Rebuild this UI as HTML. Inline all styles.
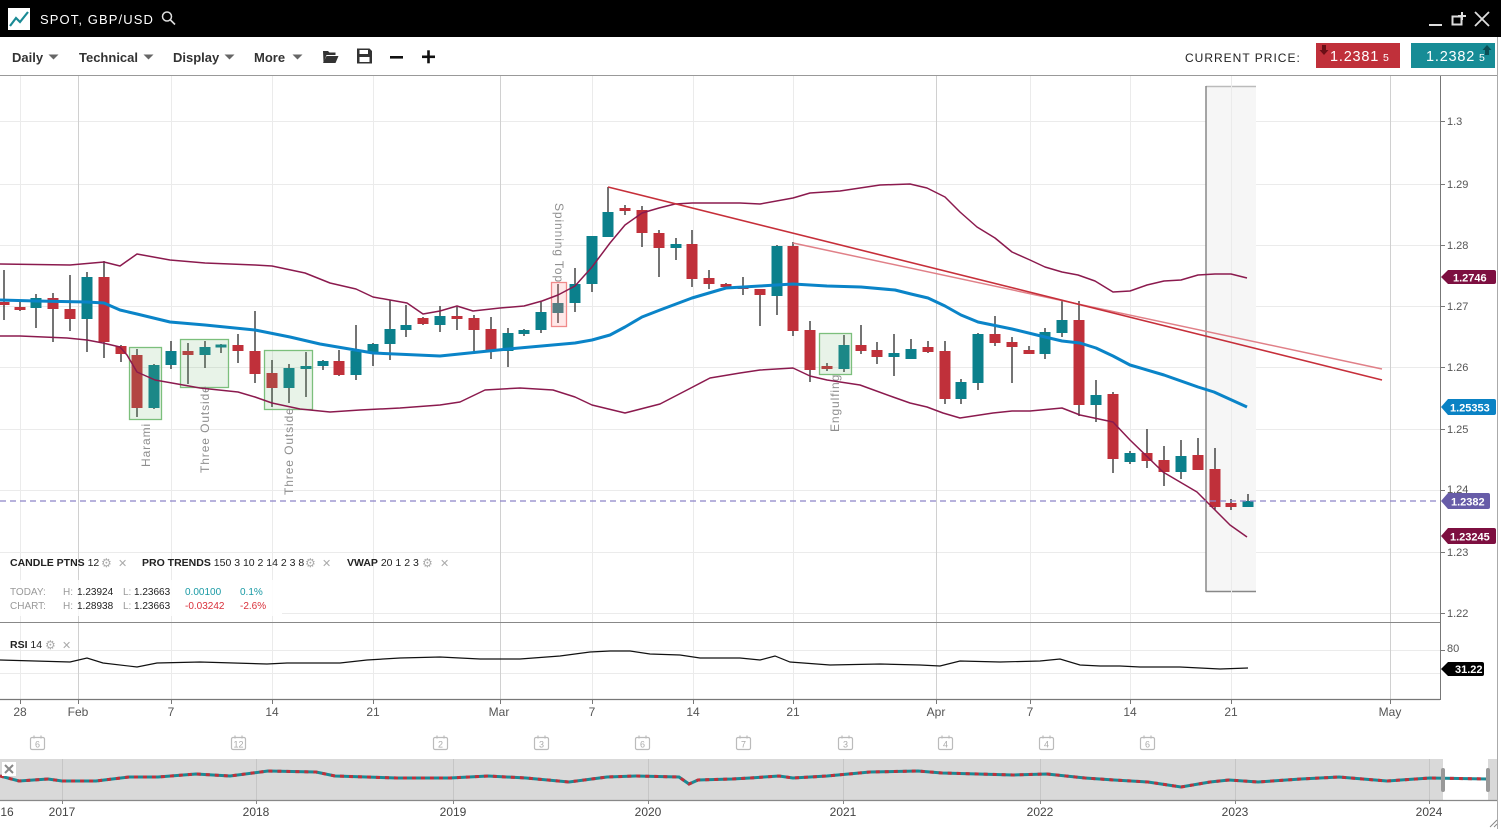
<!DOCTYPE html>
<html><head><meta charset="utf-8"><style>
html,body{margin:0;padding:0;background:#fff;width:1501px;height:829px;overflow:hidden}
svg{display:block}
</style></head><body>
<svg width="1501" height="829" viewBox="0 0 1501 829" font-family="'Liberation Sans', sans-serif">
<!-- header -->
<rect x="0" y="0" width="1501" height="37" fill="#000"/>
<rect x="8" y="8" width="22" height="22" fill="#fff"/>
<polyline points="10,26 16,18 20,22 28,12" fill="none" stroke="#1a8a95" stroke-width="2.2"/>
<text x="40" y="24" fill="#fff" font-size="13" letter-spacing="1.1">SPOT, GBP/USD</text>
<circle cx="167" cy="16.5" r="4.5" fill="none" stroke="#ddd" stroke-width="1.5"/>
<line x1="170.5" y1="20" x2="175" y2="24.5" stroke="#ddd" stroke-width="1.6"/>
<line x1="1429" y1="25" x2="1442" y2="25" stroke="#ddd" stroke-width="2"/>
<rect x="1452.5" y="16.5" width="9" height="8" fill="none" stroke="#ddd" stroke-width="2"/>
<path d="M1462 12v8M1458 16h8" stroke="#ddd" stroke-width="2"/>
<path d="M1475 12L1489 26M1489 12L1475 26" stroke="#ddd" stroke-width="1.8"/>
<!-- toolbar -->
<g font-size="13" font-weight="bold" fill="#333">
<text x="12" y="62">Daily</text>
<text x="79" y="62">Technical</text>
<text x="173" y="62">Display</text>
<text x="254" y="62">More</text>
</g>
<g fill="#666">
<path d="M48.5 54.5h10l-5 5z"/>
<path d="M143.5 54.5h10l-5 5z"/>
<path d="M224.5 54.5h10l-5 5z"/>
<path d="M292.5 54.5h10l-5 5z"/>
</g>
<path d="M323 51h5l1.5 1.5h6v2.5h-9l-3 7.5z M326.5 56h12l-3 7h-12.5z" fill="#333"/>
<path d="M357 48.5h12.5l2.5 2.5v12.5h-15z" fill="#333"/>
<rect x="359.5" y="50" width="8.5" height="4" fill="#fff"/>
<rect x="359.5" y="57" width="10" height="5" fill="#fff"/>
<rect x="390" y="56" width="13" height="2.6" fill="#111"/>
<rect x="422" y="55.5" width="13" height="2.6" fill="#111"/>
<rect x="427.2" y="50.3" width="2.6" height="13" fill="#111"/>
<text x="1185" y="62" font-size="12" fill="#222" letter-spacing="1.0">CURRENT PRICE:</text>
<rect x="1316" y="43" width="84" height="25" fill="#c0303a"/>
<path d="M1322 45h4v5h2.5l-4.5 5l-4.5-5h2.5z" fill="#6a0f16"/>
<text x="1330" y="61" font-size="14.5" fill="#fff" letter-spacing="0.8">1.2381</text>
<text x="1383" y="61" font-size="10.5" fill="#fff">5</text>
<rect x="1411" y="43" width="84" height="25" fill="#178c96"/>
<path d="M1485 55h4v-5h2.5l-4.5-5l-4.5 5h2.5z" fill="#0b4e55"/>
<text x="1426" y="61" font-size="14.5" fill="#fff" letter-spacing="0.8">1.2382</text>
<text x="1479" y="61" font-size="10.5" fill="#fff">5</text>
<line x1="0" y1="75.5" x2="1497" y2="75.5" stroke="#999" stroke-width="1"/>
<line x1="1497.5" y1="37" x2="1497.5" y2="829" stroke="#aaa" stroke-width="1"/>

<!-- horizontal grid -->
<g stroke="#ebebeb" stroke-width="1">
<line x1="0" y1="121.5" x2="1440" y2="121.5"/>
<line x1="0" y1="184.5" x2="1440" y2="184.5"/>
<line x1="0" y1="245.5" x2="1440" y2="245.5"/>
<line x1="0" y1="306.5" x2="1440" y2="306.5"/>
<line x1="0" y1="367.5" x2="1440" y2="367.5"/>
<line x1="0" y1="429.5" x2="1440" y2="429.5"/>
<line x1="0" y1="490.5" x2="1440" y2="490.5"/>
<line x1="0" y1="552.5" x2="1440" y2="552.5"/>
<line x1="282" y1="613.5" x2="1440" y2="613.5"/>
<line x1="0" y1="650.5" x2="1440" y2="650.5"/>
<line x1="0" y1="673.5" x2="1440" y2="673.5"/>
</g>
<!-- shaded box -->
<rect x="1206" y="86" width="50" height="506" fill="#f6f6f6"/>
<line x1="1206" y1="86.5" x2="1256" y2="86.5" stroke="#bbb" stroke-width="1.5"/>
<line x1="1206" y1="86" x2="1206" y2="592" stroke="#888" stroke-width="1.5"/>
<line x1="1206" y1="591.5" x2="1256" y2="591.5" stroke="#888" stroke-width="1.5"/>
<!-- vertical grid -->
<g stroke="#ebebeb" stroke-width="1">
<line x1="20.5" y1="76" x2="20.5" y2="699"/>
<line x1="171.5" y1="76" x2="171.5" y2="699"/>
<line x1="272.5" y1="76" x2="272.5" y2="699"/>
<line x1="373.5" y1="76" x2="373.5" y2="699"/>
<line x1="592.5" y1="76" x2="592.5" y2="699"/>
<line x1="693.5" y1="76" x2="693.5" y2="699"/>
<line x1="793.5" y1="76" x2="793.5" y2="699"/>
<line x1="1030.5" y1="76" x2="1030.5" y2="699"/>
<line x1="1130.5" y1="76" x2="1130.5" y2="699"/>
<line x1="1231.5" y1="76" x2="1231.5" y2="699"/>
</g>
<g stroke="#d0d0d0" stroke-width="1">
<line x1="78.5" y1="76" x2="78.5" y2="699"/>
<line x1="500.5" y1="76" x2="500.5" y2="699"/>
<line x1="936.5" y1="76" x2="936.5" y2="699"/>
<line x1="1390.5" y1="76" x2="1390.5" y2="699"/>
</g>
<!-- legend white bg -->
<rect x="0" y="580" width="282" height="36" fill="#fff" opacity="0.85"/>

<!-- candle wicks -->
<path stroke="#2a2a2a" stroke-width="1.3" fill="none" d="M4 270V320 M20 300V311 M36 294V328 M53 293V342 M70 275V331 M87 272V352 M104 261V358 M121 345V362 M137 349V417 M154 364V409 M171 341V369 M188 343V384 M205 341V368 M221 344V353 M238 334V363 M255 311V383 M272 360V407 M289 364V403 M306 352V397 M323 360V370 M339 350V376 M356 325V380 M373 343V366 M390 300V360 M406 305V337 M423 317V325 M440 306V332 M457 307V330 M474 315V354 M491 317V359 M508 328V367 M524 329V336 M541 302V333 M558 284V323 M575 268V312 M592 236V292 M608 187V237 M625 205V215 M642 206V247 M659 230V277 M676 238V260 M692 230V287 M709 270V289 M726 283V288 M743 277V295 M760 289V326 M777 245V315 M793 242V336 M810 321V382 M827 363V371 M844 335V372 M861 325V354 M877 342V364 M894 334V376 M911 339V359 M928 341V353 M945 341V404 M961 379V404 M978 333V390 M995 316V346 M1012 337V383 M1029 346V354 M1045 328V359 M1062 301V337 M1079 301V416 M1096 380V422 M1113 392V473 M1130 451V464 M1147 429V468 M1164 446V486 M1181 440V479 M1198 438V470 M1215 448V510 M1231 499V510 M1248 494V507"/>
<!-- red bodies -->
<g fill="#c0303a">
<rect x="-1.5" y="302" width="11" height="3"/>
<rect x="14.5" y="307" width="11" height="3"/>
<rect x="47.5" y="298" width="11" height="11"/>
<rect x="64.5" y="309" width="11" height="10"/>
<rect x="98.5" y="277" width="11" height="65"/>
<rect x="115.5" y="346" width="11" height="8"/>
<rect x="131.5" y="355" width="11" height="53"/>
<rect x="182.5" y="351" width="11" height="4"/>
<rect x="232.5" y="345" width="11" height="6"/>
<rect x="249.5" y="351" width="11" height="23"/>
<rect x="266.5" y="373" width="11" height="15"/>
<rect x="333.5" y="361" width="11" height="14"/>
<rect x="417.5" y="318" width="11" height="6"/>
<rect x="451.5" y="316" width="11" height="3"/>
<rect x="468.5" y="318" width="11" height="12"/>
<rect x="485.5" y="329" width="11" height="21"/>
<rect x="619.5" y="208" width="11" height="3"/>
<rect x="636.5" y="210" width="11" height="23"/>
<rect x="653.5" y="233" width="11" height="15"/>
<rect x="686.5" y="244" width="11" height="35"/>
<rect x="703.5" y="278" width="11" height="6"/>
<rect x="720.5" y="284" width="11" height="3"/>
<rect x="737.5" y="286" width="11" height="3"/>
<rect x="754.5" y="289" width="11" height="6"/>
<rect x="787.5" y="246" width="11" height="85"/>
<rect x="804.5" y="330" width="11" height="40"/>
<rect x="821.5" y="366" width="11" height="3"/>
<rect x="855.5" y="345" width="11" height="6"/>
<rect x="871.5" y="350" width="11" height="7"/>
<rect x="922.5" y="347" width="11" height="5"/>
<rect x="939.5" y="351" width="11" height="48"/>
<rect x="989.5" y="334" width="11" height="9"/>
<rect x="1006.5" y="342" width="11" height="5"/>
<rect x="1023.5" y="350" width="11" height="4"/>
<rect x="1073.5" y="320" width="11" height="85"/>
<rect x="1107.5" y="394" width="11" height="65"/>
<rect x="1141.5" y="453" width="11" height="8"/>
<rect x="1158.5" y="460" width="11" height="12"/>
<rect x="1192.5" y="455" width="11" height="15"/>
<rect x="1209.5" y="469" width="11" height="38"/>
<rect x="1225.5" y="503" width="11" height="4"/>
</g>
<!-- teal bodies -->
<g fill="#0b808c">
<rect x="30.5" y="298" width="11" height="10"/>
<rect x="81.5" y="277" width="11" height="42"/>
<rect x="148.5" y="365" width="11" height="43"/>
<rect x="165.5" y="351" width="11" height="14"/>
<rect x="199.5" y="347" width="11" height="8"/>
<rect x="215.5" y="344.5" width="11" height="3"/>
<rect x="283.5" y="368" width="11" height="20"/>
<rect x="300.5" y="366" width="11" height="3"/>
<rect x="317.5" y="361" width="11" height="5"/>
<rect x="350.5" y="351" width="11" height="24"/>
<rect x="367.5" y="344" width="11" height="8"/>
<rect x="384.5" y="329" width="11" height="15"/>
<rect x="400.5" y="325" width="11" height="5"/>
<rect x="434.5" y="316" width="11" height="9"/>
<rect x="502.5" y="333" width="11" height="18"/>
<rect x="518.5" y="330" width="11" height="4"/>
<rect x="535.5" y="312" width="11" height="18"/>
<rect x="569.5" y="284" width="11" height="19"/>
<rect x="586.5" y="236" width="11" height="48"/>
<rect x="602.5" y="212" width="11" height="25"/>
<rect x="670.5" y="244" width="11" height="4"/>
<rect x="771.5" y="246" width="11" height="50"/>
<rect x="838.5" y="345" width="11" height="24"/>
<rect x="888.5" y="353" width="11" height="4"/>
<rect x="905.5" y="349" width="11" height="10"/>
<rect x="955.5" y="382" width="11" height="17"/>
<rect x="972.5" y="334" width="11" height="49"/>
<rect x="1039.5" y="332" width="11" height="22"/>
<rect x="1056.5" y="320" width="11" height="13"/>
<rect x="1090.5" y="395" width="11" height="10"/>
<rect x="1124.5" y="453" width="11" height="9"/>
<rect x="1175.5" y="456" width="11" height="16"/>
<rect x="1242.5" y="501" width="11" height="6"/>
</g>
<rect x="552.5" y="303" width="11" height="10" fill="#2a7a80"/>

<!-- pattern boxes -->
<g fill="rgba(110,180,110,0.16)" stroke="#7cbf7c" stroke-width="1.3">
<rect x="129.5" y="347.5" width="32" height="72"/>
<rect x="180.5" y="339.5" width="48" height="48"/>
<rect x="264.5" y="350.5" width="48" height="59"/>
<rect x="819.5" y="333.5" width="32" height="41"/>
</g>
<rect x="551.5" y="282.5" width="15" height="44" fill="rgba(255,140,140,0.2)" stroke="#f08a8a" stroke-width="1.3"/>
<g fill="#8f8f8f" font-size="12" letter-spacing="0.9">
<text transform="translate(150,467) rotate(-90)">Harami</text>
<text transform="translate(209,473) rotate(-90)">Three Outside</text>
<text transform="translate(293,495) rotate(-90)">Three Outside</text>
<text transform="translate(839,432) rotate(-90)">Engulfing</text>
<text transform="translate(555,203) rotate(90)">Spinning Top</text>
</g>

<!-- bands -->
<g fill="none" stroke="#8b1a4e" stroke-width="1.5" stroke-linejoin="round">
<polyline points="0,264 70,265 104,262 120,266 137,254 170,260 205,263 255,265 272,266 305,273 330,283 356,289 373,297 390,300 407,303 423,314 440,311 457,306 473,311 500,308 524,306 542,301 558,295 575,286 592,267 610,243 625,225 642,213 659,208 675,204 692,203 740,203 760,204 793,198 810,193 840,191 880,185 910,184 927,188 945,197 960,212 977,227 995,238 1012,252 1030,260 1045,267 1062,272 1078,275 1095,281 1113,292 1130,291 1147,285 1164,281 1181,280 1198,275 1215,274 1231,274 1247,278"/>
<polyline points="0,336 20,336 67,338 87,340 103,343 120,347 127,355 137,372 155,380 172,383 200,388 238,392 255,397 272,403 300,409 330,412 360,410 400,408 440,405 460,402 485,390 520,388 553,390 575,397 592,405 625,413 660,404 687,390 710,378 740,373 760,370 793,368 810,376 827,380 860,385 893,397 910,403 927,407 943,413 960,418 993,413 1012,411 1030,411 1062,408 1080,415 1113,422 1130,440 1163,472 1197,492 1213,508 1230,525 1247,537"/>
</g>
<polyline fill="none" stroke="#0a84c8" stroke-width="3" stroke-linejoin="round" points="0,300 36,301 87,302 104,303 120,310 137,314 170,322 205,325 255,330 290,337 320,344 373,353 440,356 508,349 575,343 592,340 610,335 625,327 642,317 660,310 692,298 726,288 760,286 793,284 827,286 861,287 895,290 911,294 928,298 945,306 961,315 978,322 1012,329 1045,337 1062,341 1080,343 1096,348 1113,356 1130,365 1164,375 1198,387 1214,392 1247,407"/>
<!-- trend lines -->
<line x1="793" y1="243" x2="1382" y2="369" stroke="#e08088" stroke-width="1.5"/>
<line x1="608" y1="187" x2="1382" y2="380" stroke="#c62f3a" stroke-width="1.6"/>
<!-- current price -->
<line x1="0" y1="501" x2="1440" y2="501" stroke="#8c84c8" stroke-width="1.2" stroke-dasharray="6 4"/>

<!-- panel separators & axes -->
<line x1="0" y1="622.5" x2="1440" y2="622.5" stroke="#888" stroke-width="1"/>
<line x1="0" y1="699.5" x2="1440" y2="699.5" stroke="#777" stroke-width="1.2"/>
<line x1="1440.5" y1="76" x2="1440.5" y2="700" stroke="#777" stroke-width="1"/>

<!-- RSI -->
<polyline fill="none" stroke="#111" stroke-width="1.2" points="0,660 70,662 87,658 103,663 137,667 157,663 200,662 267,664 287,663 340,663 367,660 400,658 440,657 480,659 520,659 560,656 590,652 610,651 630,651 650,654 680,655 700,658 740,658 760,660 775,656 790,662 830,665 880,664 920,665 940,666 960,661 1000,662 1040,661 1060,659 1080,665 1100,666 1120,666 1140,667 1180,667 1200,668 1220,669 1248,668"/>

<!-- right axis labels -->
<g stroke="#777" stroke-width="1">
<path d="M1440 121.5h5M1440 184.5h5M1440 245.5h5M1440 306.5h5M1440 367.5h5M1440 429.5h5M1440 490.5h5M1440 552.5h5M1440 613.5h5M1440 650.5h5"/>
</g>
<g font-size="11" fill="#555">
<text x="1447" y="125">1.3</text>
<text x="1447" y="188">1.29</text>
<text x="1447" y="249">1.28</text>
<text x="1447" y="310">1.27</text>
<text x="1447" y="371">1.26</text>
<text x="1447" y="433">1.25</text>
<text x="1447" y="493">1.24</text>
<text x="1447" y="556">1.23</text>
<text x="1447" y="617">1.22</text>
<text x="1447" y="652">80</text>
</g>
<g font-size="11" font-weight="bold" fill="#fff">
<path d="M1441 277l7-7h46a2 2 0 0 1 2 2v10a2 2 0 0 1-2 2h-46z" fill="#7d0f40"/>
<text x="1453" y="281.5">1.2746</text>
<path d="M1441 407l7-8h46a2 2 0 0 1 2 2v12a2 2 0 0 1-2 2h-46z" fill="#0a82c4"/>
<text x="1450" y="411.5">1.25353</text>
<path d="M1441 501l7-8h40a2 2 0 0 1 2 2v12a2 2 0 0 1-2 2h-40z" fill="#675ca8"/>
<text x="1451" y="505.5">1.2382</text>
<path d="M1441 536l7-8h46a2 2 0 0 1 2 2v12a2 2 0 0 1-2 2h-46z" fill="#7d0f40"/>
<text x="1450" y="540.5">1.23245</text>
<path d="M1441 669l7-7h34a2 2 0 0 1 2 2v10a2 2 0 0 1-2 2h-34z" fill="#000"/>
<text x="1455" y="673">31.22</text>
</g>

<!-- legends -->
<g font-size="10.5" fill="#222">
<text x="10" y="566"><tspan font-weight="bold">CANDLE PTNS</tspan> 12</text>
<text x="142" y="566"><tspan font-weight="bold">PRO TRENDS</tspan> 150 3 10 2 14 2 3 8</text>
<text x="347" y="566"><tspan font-weight="bold">VWAP</tspan> 20 1 2 3</text>
<text x="10" y="648"><tspan font-weight="bold">RSI</tspan> 14</text>
</g>
<g font-family="'DejaVu Sans', sans-serif" font-size="12" fill="#aaa">
<text x="101" y="567">⚙</text><text x="118" y="567" font-size="11">✕</text>
<text x="305" y="567">⚙</text><text x="322" y="567" font-size="11">✕</text>
<text x="422" y="567">⚙</text><text x="440" y="567" font-size="11">✕</text>
<text x="45" y="649">⚙</text><text x="62" y="649" font-size="11">✕</text>
</g>
<g font-size="10" fill="#999">
<text x="10" y="595">TODAY:</text>
<text x="10" y="609">CHART:</text>
<text x="63" y="595">H:</text><text x="63" y="609">H:</text>
<text x="123" y="595">L:</text><text x="123" y="609">L:</text>
</g>
<g font-size="10" fill="#222">
<text x="77" y="595">1.23924</text><text x="134" y="595">1.23663</text>
<text x="77" y="609">1.28938</text><text x="134" y="609">1.23663</text>
</g>
<g font-size="10" fill="#1a9aa5"><text x="185" y="595">0.00100</text><text x="240" y="595">0.1%</text></g>
<g font-size="10" fill="#d9303a"><text x="185" y="609">-0.03242</text><text x="240" y="609">-2.6%</text></g>

<!-- x axis -->
<g stroke="#777" stroke-width="1">
<path d="M20.5 700v4M78.5 700v4M171.5 700v4M272.5 700v4M373.5 700v4M500.5 700v4M592.5 700v4M693.5 700v4M793.5 700v4M936.5 700v4M1030.5 700v4M1130.5 700v4M1231.5 700v4M1390.5 700v4"/>
</g>
<g font-size="12" fill="#555" text-anchor="middle">
<text x="20" y="716">28</text>
<text x="78" y="716">Feb</text>
<text x="171" y="716">7</text>
<text x="272" y="716">14</text>
<text x="373" y="716">21</text>
<text x="499" y="716">Mar</text>
<text x="592" y="716">7</text>
<text x="693" y="716">14</text>
<text x="793" y="716">21</text>
<text x="936" y="716">Apr</text>
<text x="1030" y="716">7</text>
<text x="1130" y="716">14</text>
<text x="1231" y="716">21</text>
<text x="1390" y="716">May</text>
</g>
<!-- calendar icons -->
<g fill="#fff" stroke="#bbb" stroke-width="1.2">
<rect x="30.5" y="737.5" width="14" height="12" rx="1.5"/>
<rect x="231.5" y="737.5" width="14" height="12" rx="1.5"/>
<rect x="433.5" y="737.5" width="14" height="12" rx="1.5"/>
<rect x="534.5" y="737.5" width="14" height="12" rx="1.5"/>
<rect x="635.5" y="737.5" width="14" height="12" rx="1.5"/>
<rect x="736.5" y="737.5" width="14" height="12" rx="1.5"/>
<rect x="838.5" y="737.5" width="14" height="12" rx="1.5"/>
<rect x="938.5" y="737.5" width="14" height="12" rx="1.5"/>
<rect x="1039.5" y="737.5" width="14" height="12" rx="1.5"/>
<rect x="1140.5" y="737.5" width="14" height="12" rx="1.5"/>
</g>
<g stroke="#bbb" stroke-width="1.2">
<path d="M34 735.5v3M41 735.5v3M235 735.5v3M242 735.5v3M437 735.5v3M444 735.5v3M538 735.5v3M545 735.5v3M639 735.5v3M646 735.5v3M740 735.5v3M747 735.5v3M842 735.5v3M849 735.5v3M942 735.5v3M949 735.5v3M1043 735.5v3M1050 735.5v3M1144 735.5v3M1151 735.5v3"/>
</g>
<g font-size="9" fill="#aaa" text-anchor="middle">
<text x="37.5" y="747.5">6</text>
<text x="238.5" y="747.5">12</text>
<text x="440.5" y="747.5">2</text>
<text x="541.5" y="747.5">3</text>
<text x="642.5" y="747.5">6</text>
<text x="743.5" y="747.5">7</text>
<text x="845.5" y="747.5">3</text>
<text x="945.5" y="747.5">4</text>
<text x="1046.5" y="747.5">4</text>
<text x="1147.5" y="747.5">6</text>
</g>

<!-- navigator -->
<rect x="0" y="759" width="1497" height="41" fill="#d9d9d9"/>
<g stroke="#c6c6c6" stroke-width="1">
<path d="M62.5 759v41M256.5 759v41M453.5 759v41M648.5 759v41M843.5 759v41M1040.5 759v41M1235.5 759v41M1429.5 759v41"/>
</g>
<rect x="1443" y="759" width="45" height="41" fill="#fff"/>
<polyline fill="none" stroke="#1a8a95" stroke-width="3" points="0,776 19,781 48,779 62,781 96,781 129,777 158,777 196,774 230,776 268,771 316,772 335,776 397,778 450,778 488,776 526,778 569,782 607,777 636,776 679,777 689,784 698,780 732,779 750,778 779,776 793,778 827,776 870,772 918,771 942,773 1013,775 1047,774 1085,778 1114,780 1148,782 1181,787 1210,782 1229,780 1258,782 1301,779 1339,777 1387,781 1430,778 1488,779"/>
<polyline fill="none" stroke="#c0303a" stroke-width="3" stroke-dasharray="4 5" points="0,776 19,781 48,779 62,781 96,781 129,777 158,777 196,774 230,776 268,771 316,772 335,776 397,778 450,778 488,776 526,778 569,782 607,777 636,776 679,777 689,784 698,780 732,779 750,778 779,776 793,778 827,776 870,772 918,771 942,773 1013,775 1047,774 1085,778 1114,780 1148,782 1181,787 1210,782 1229,780 1258,782 1301,779 1339,777 1387,781 1430,778 1488,779"/>
<rect x="1441" y="768" width="4" height="24" rx="2" fill="#999"/>
<rect x="1486" y="768" width="4" height="24" rx="2" fill="#999"/>
<line x1="0" y1="800.5" x2="1497" y2="800.5" stroke="#888" stroke-width="1.2"/>
<rect x="2" y="762" width="14" height="14" fill="#fff"/>
<path d="M5 765l8 8M13 765l-8 8" stroke="#888" stroke-width="2"/>
<g stroke="#888" stroke-width="1">
<path d="M62.5 800v4M256.5 800v4M453.5 800v4M648.5 800v4M843.5 800v4M1040.5 800v4M1235.5 800v4M1429.5 800v4"/>
</g>
<g font-size="12" fill="#444" text-anchor="middle">
<text x="7" y="816">16</text>
<text x="62" y="816">2017</text>
<text x="256" y="816">2018</text>
<text x="453" y="816">2019</text>
<text x="648" y="816">2020</text>
<text x="843" y="816">2021</text>
<text x="1040" y="816">2022</text>
<text x="1235" y="816">2023</text>
<text x="1429" y="816">2024</text>
</g>
<path d="M1490 827l7-7M1494 827l3-3" stroke="#888" stroke-width="1"/>
</svg>
</body></html>
